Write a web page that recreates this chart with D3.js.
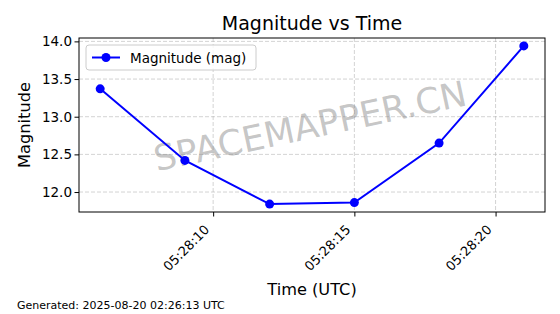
<!DOCTYPE html>
<html>
<head>
<meta charset="utf-8">
<script src="https://cdn.jsdelivr.net/npm/d3@7"></script>
<style>
  body { margin: 0; background: #fff; }
  text { font-family: "DejaVu Sans", sans-serif; }
</style>
</head>
<body>
<div id="container"></div>
<script>
const BLUE = "#0000ff";

const times = ["05:28:06", "05:28:09", "05:28:12", "05:28:15", "05:28:18", "05:28:21"];
const magnitudes = [13.37, 12.42, 11.84, 11.86, 12.65, 13.94];
const yTicks = [12.0, 12.5, 13.0, 13.5, 14.0];
const xTicks = ["05:28:10", "05:28:15", "05:28:20"];

const width = 560, height = 314;
const margin = {left: 79, right: 15, top: 38, bottom: 102};

const parse = t => new Date("2025-08-20T" + t + "Z");
const data = times.map((t, i) => ({t: parse(t), m: magnitudes[i]}));

let svg = d3.select("#container")
  .append("svg")
  .attr("width", width)
  .attr("height", height);

// matplotlib-ish 5% margins around the data
let tExt = d3.extent(data, d => d.t);
let tPad = (tExt[1] - tExt[0]) * 0.05;
let mExt = d3.extent(data, d => d.m);
let mPad = (mExt[1] - mExt[0]) * 0.05;

const x = d3.scaleUtc()
  .domain([new Date(+tExt[0] - tPad), new Date(+tExt[1] + tPad)])
  .range([margin.left, width - margin.right]);

const y = d3.scaleLinear()
  .domain([mExt[0] - mPad, mExt[1] + mPad])
  .range([height - margin.bottom, margin.top]);

// grid
let grid = svg.append("g")
  .attr("stroke", "#b0b0b0")
  .attr("stroke-opacity", 0.7)
  .attr("stroke-width", 0.8)
  .attr("stroke-dasharray", "4,2");

grid.selectAll(".gx")
  .data(xTicks.map(parse))
  .join("line")
  .attr("x1", d => x(d)).attr("x2", d => x(d))
  .attr("y1", margin.top).attr("y2", height - margin.bottom);

grid.selectAll(".gy")
  .data(yTicks)
  .join("line")
  .attr("y1", d => y(d)).attr("y2", d => y(d))
  .attr("x1", margin.left).attr("x2", width - margin.right);

// watermark
svg.append("text")
  .attr("transform", "translate(310,126) rotate(-12)")
  .attr("text-anchor", "middle")
  .attr("dominant-baseline", "central")
  .attr("font-size", 35.5)
  .attr("fill", "#808080")
  .attr("fill-opacity", 0.45)
  .text("SPACEMAPPER.CN");

// line + markers
svg.append("path")
  .datum(data)
  .attr("fill", "none")
  .attr("stroke", BLUE)
  .attr("stroke-width", 2)
  .attr("d", d3.line().x(d => x(d.t)).y(d => y(d.m)));

svg.append("g")
  .selectAll("circle")
  .data(data)
  .join("circle")
  .attr("cx", d => x(d.t))
  .attr("cy", d => y(d.m))
  .attr("r", 4.5)
  .attr("fill", BLUE);

// axes
let xAxis = svg.append("g")
  .attr("transform", `translate(0,${height - margin.bottom})`)
  .call(d3.axisBottom(x).tickValues(xTicks.map(parse)).tickFormat(d3.utcFormat("%H:%M:%S")).tickSize(4.5).tickSizeOuter(0));
xAxis.select(".domain").remove();
xAxis.selectAll("text")
  .attr("font-size", 13)
  .attr("fill", "#000")
  .attr("text-anchor", "end")
  .attr("dominant-baseline", "text-before-edge")
  .attr("dy", null)
  .attr("y", 0)
  .attr("transform", "translate(-12,10) rotate(-45)");
xAxis.selectAll("line").attr("stroke", "#000").attr("stroke-width", 1);

let yAxis = svg.append("g")
  .attr("transform", `translate(${margin.left},0)`)
  .call(d3.axisLeft(y).tickValues(yTicks).tickFormat(d3.format(".1f")).tickSize(4.5).tickSizeOuter(0));
yAxis.select(".domain").remove();
yAxis.selectAll("text").attr("font-size", 13.5).attr("fill", "#000").attr("x", -7);
yAxis.selectAll("line").attr("stroke", "#000").attr("stroke-width", 1);

// frame
svg.append("rect")
  .attr("x", margin.left)
  .attr("y", margin.top)
  .attr("width", width - margin.left - margin.right)
  .attr("height", height - margin.top - margin.bottom)
  .attr("fill", "none")
  .attr("stroke", "#000")
  .attr("stroke-width", 1);

// titles
svg.append("text")
  .attr("x", (margin.left + width - margin.right) / 2)
  .attr("y", 30)
  .attr("text-anchor", "middle")
  .attr("font-size", 19)
  .text("Magnitude vs Time");

svg.append("text")
  .attr("x", (margin.left + width - margin.right) / 2)
  .attr("y", 295)
  .attr("text-anchor", "middle")
  .attr("font-size", 16.2)
  .text("Time (UTC)");

svg.append("text")
  .attr("transform", `translate(30,${(margin.top + height - margin.bottom) / 2}) rotate(-90)`)
  .attr("text-anchor", "middle")
  .attr("font-size", 16.2)
  .text("Magnitude");

// legend
let legend = svg.append("g").attr("transform", "translate(86,45)");
legend.append("rect")
  .attr("width", 170).attr("height", 25)
  .attr("rx", 3)
  .attr("fill", "#fff").attr("fill-opacity", 0.8)
  .attr("stroke", "#cccccc");
legend.append("line")
  .attr("x1", 6).attr("x2", 34).attr("y1", 12.5).attr("y2", 12.5)
  .attr("stroke", BLUE).attr("stroke-width", 2);
legend.append("circle").attr("cx", 20).attr("cy", 12.5).attr("r", 4.5).attr("fill", BLUE);
legend.append("text")
  .attr("x", 44).attr("y", 12.5)
  .attr("dominant-baseline", "central")
  .attr("font-size", 13.5)
  .text("Magnitude (mag)");

// footer
svg.append("text")
  .attr("x", 17).attr("y", 309)
  .attr("font-size", 11)
  .text("Generated: 2025-08-20 02:26:13 UTC");
</script>
</body>
</html>
